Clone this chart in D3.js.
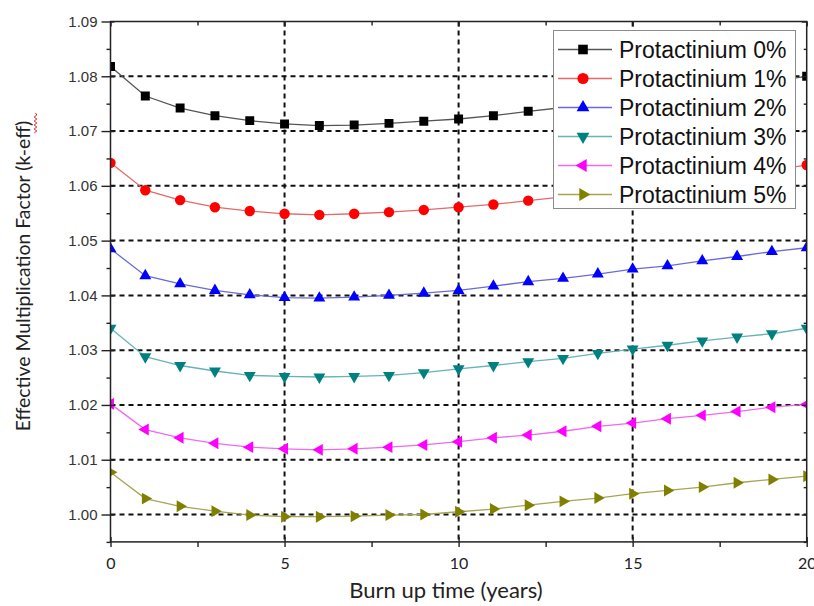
<!DOCTYPE html>
<html>
<head>
<meta charset="utf-8">
<script src="https://cdn.jsdelivr.net/npm/d3@7"></script>
<style>
html,body{margin:0;padding:0;background:#fff;}
svg{display:block;}
</style>
</head>
<body>
<svg id="chart" width="814" height="606"></svg>
<script>
// ---- data ----
const years = [0,1,2,3,4,5,6,7,8,9,10,11,12,13,14,15,16,17,18,19,20];
const seriesNames = ["Protactinium 0%","Protactinium 1%","Protactinium 2%","Protactinium 3%","Protactinium 4%","Protactinium 5%"];
const pa0 = [1.0818,1.0764,1.0742,1.0728,1.0719,1.0713,1.0710,1.0711,1.0714,1.0718,1.0722,1.0728,1.0736,1.0743,1.0751,1.0759,1.0767,1.0775,1.0783,1.0791,1.0800];
const pa1 = [1.0642,1.0592,1.0574,1.0561,1.0554,1.0549,1.0547,1.0549,1.0552,1.0556,1.0561,1.0566,1.0573,1.0580,1.0588,1.0596,1.0604,1.0613,1.0621,1.0629,1.0638];
const pa2 = [1.0485,1.0436,1.0421,1.0409,1.0401,1.0396,1.0395,1.0397,1.0400,1.0404,1.0409,1.0417,1.0425,1.0431,1.0439,1.0448,1.0454,1.0463,1.0471,1.0480,1.0487];
const pa3 = [1.0340,1.0288,1.0272,1.0262,1.0254,1.0252,1.0251,1.0252,1.0254,1.0259,1.0266,1.0272,1.0279,1.0285,1.0294,1.0302,1.0309,1.0317,1.0324,1.0330,1.0340];
const pa4 = [1.0202,1.0155,1.0140,1.0130,1.0123,1.0120,1.0118,1.0120,1.0123,1.0127,1.0133,1.0140,1.0145,1.0152,1.0161,1.0167,1.0175,1.0181,1.0188,1.0196,1.0201];
const pa5 = [1.0077,1.0029,1.0015,1.0006,0.9999,0.9996,0.9996,0.9997,0.9999,1.0000,1.0005,1.0010,1.0017,1.0024,1.0030,1.0038,1.0044,1.0050,1.0058,1.0064,1.0070];
const xMajorTicks = [0,5,10,15,20];
const xMinorTicks = [2.5,7.5,12.5,17.5];
const yMajorTicks = [1.00,1.01,1.02,1.03,1.04,1.05,1.06,1.07,1.08,1.09];
const yMinorTicks = [0.995,1.005,1.015,1.025,1.035,1.045,1.055,1.065,1.075,1.085];
const xTitle = "Burn up time (years)";
const yTitle = "Effective Multiplication Factor (k-eff)";

// ---- styles ----
const markerColors = ["#000000","#ff0000","#0000ff","#008080","#ff00ff","#808000"];
const lineColors   = ["#555555","#e46a6a","#6a6ad8","#66b4b4","#f06af0","#a6a650"];
const shapes = [
  {t:d3.symbolSquare, s:80, r:0},
  {t:d3.symbolCircle, s:85, r:0},
  {t:d3.symbolTriangle, s:62, r:0},
  {t:d3.symbolTriangle, s:62, r:180},
  {t:d3.symbolTriangle, s:62, r:-90},
  {t:d3.symbolTriangle, s:62, r:90}
];
const allSeries = [pa0,pa1,pa2,pa3,pa4,pa5];

const svg = d3.select("#chart");
const L=110.5, R=806.7, T=21.5, B=541.9;
const x = d3.scaleLinear().domain([0,20]).range([L,R]);
const y = d3.scaleLinear().domain([0.995,1.09]).range([B,T]);

svg.append("defs").append("clipPath").attr("id","plotclip")
  .append("rect").attr("x",L).attr("y",T).attr("width",R-L).attr("height",B-T);

// gridlines
const grid = svg.append("g").attr("stroke","#111").attr("stroke-width",2).attr("stroke-dasharray","5,4");
grid.selectAll("line.h").data(yMajorTicks.filter(v=>v<1.085)).enter().append("line")
  .attr("x1",L).attr("x2",R).attr("y1",d=>y(d)).attr("y2",d=>y(d));
grid.selectAll("line.v").data(xMajorTicks.filter(v=>v>0&&v<20)).enter().append("line")
  .attr("y1",T).attr("y2",B).attr("x1",d=>x(d)).attr("x2",d=>x(d));

// series
const plot = svg.append("g").attr("clip-path","url(#plotclip)");
const line = d3.line().x((d,i)=>x(years[i])).y(d=>y(d));
allSeries.forEach((vals,k)=>{
  plot.append("path").attr("d",line(vals)).attr("fill","none")
    .attr("stroke",lineColors[k]).attr("stroke-width",1.3);
});
allSeries.forEach((vals,k)=>{
  const sym = d3.symbol().type(shapes[k].t).size(shapes[k].s);
  plot.selectAll(null).data(vals).enter().append("path")
    .attr("d",sym)
    .attr("transform",(d,i)=>`translate(${x(years[i])},${y(d)}) rotate(${shapes[k].r})`)
    .attr("fill",markerColors[k]);
});

// legend
const lg = svg.append("g");
lg.append("rect").attr("x",553.5).attr("y",30.5).attr("width",242).attr("height",178)
  .attr("fill","#fff").attr("stroke","#8a8a8a").attr("stroke-width",1);
seriesNames.forEach((name,k)=>{
  const cy = 49.5 + k*29;
  lg.append("line").attr("x1",558).attr("x2",612).attr("y1",cy).attr("y2",cy)
    .attr("stroke",lineColors[k]).attr("stroke-width",1.3);
  const sym = d3.symbol().type(shapes[k].t).size(shapes[k].s*1.15);
  lg.append("path").attr("d",sym).attr("transform",`translate(583,${cy}) rotate(${shapes[k].r})`)
    .attr("fill",markerColors[k]);
  lg.append("text").attr("x",619).attr("y",cy+8).text(name)
    .attr("font-family","'Liberation Sans', Arial, sans-serif").attr("font-size",23).attr("fill","#111");
});

// axes
function clean(g){ g.select(".domain").remove(); g.selectAll("line").attr("stroke","#222").attr("stroke-width",1.4); }
const tickFont = "'Liberation Sans', Arial, sans-serif";
// left
svg.append("g").attr("transform",`translate(${L},0)`)
  .call(d3.axisLeft(y).tickValues(yMajorTicks).tickSize(9).tickPadding(4).tickFormat(d3.format(".2f")))
  .call(clean).call(g=>g.selectAll("text").attr("font-family",tickFont).attr("font-size",15).attr("fill","#333"));
svg.append("g").attr("transform",`translate(${L},0)`)
  .call(d3.axisRight(y).tickValues(yMajorTicks).tickSize(4).tickFormat("")).call(clean);
svg.append("g").attr("transform",`translate(${L},0)`)
  .call(d3.axisLeft(y).tickValues(yMinorTicks).tickSize(4).tickFormat("")).call(clean);
// right (inward)
svg.append("g").attr("transform",`translate(${R},0)`)
  .call(d3.axisLeft(y).tickValues(yMajorTicks).tickSize(5).tickFormat("")).call(clean);
svg.append("g").attr("transform",`translate(${R},0)`)
  .call(d3.axisLeft(y).tickValues(yMinorTicks).tickSize(3).tickFormat("")).call(clean);
// bottom
svg.append("g").attr("transform",`translate(0,${B})`)
  .call(d3.axisBottom(x).tickValues(xMajorTicks).tickSize(5).tickPadding(11).tickFormat(d3.format("d")))
  .call(clean).call(g=>g.selectAll("text").attr("font-family","Lato, sans-serif").attr("font-size",16).attr("fill","#222"));
svg.append("g").attr("transform",`translate(0,${B})`)
  .call(d3.axisTop(x).tickValues(xMajorTicks).tickSize(5).tickFormat("")).call(clean);
svg.append("g").attr("transform",`translate(0,${B})`)
  .call(d3.axisBottom(x).tickValues(xMinorTicks).tickSize(5).tickFormat("")).call(clean);
// top (inward)
svg.append("g").attr("transform",`translate(0,${T})`)
  .call(d3.axisBottom(x).tickValues(xMajorTicks).tickSize(5).tickFormat("")).call(clean);
svg.append("g").attr("transform",`translate(0,${T})`)
  .call(d3.axisBottom(x).tickValues(xMinorTicks).tickSize(4).tickFormat("")).call(clean);

// frame
svg.append("rect").attr("x",L).attr("y",T).attr("width",R-L).attr("height",B-T)
  .attr("fill","none").attr("stroke","#222").attr("stroke-width",1.5);

// titles
svg.append("text").attr("x",446).attr("y",598).attr("text-anchor","middle")
  .attr("font-family","Lato, sans-serif").attr("font-size",22).attr("fill","#222").text(xTitle);
svg.append("text").attr("transform","translate(30,276) rotate(-90)").attr("text-anchor","middle")
  .attr("font-family","Lato, sans-serif").attr("font-size",19.4).attr("fill","#222").text(yTitle);

// spell-check squiggle seen under "k-eff" in the reference
(function(){
  let p = "M35.5,113";
  for(let yy=113, s=1; yy<133; yy+=2, s=-s){ p += ` L${35.5+s*1.3},${yy+2}`; }
  svg.append("path").attr("d",p).attr("fill","none").attr("stroke","#e02020").attr("stroke-width",1);
})();
</script>
</body>
</html>
